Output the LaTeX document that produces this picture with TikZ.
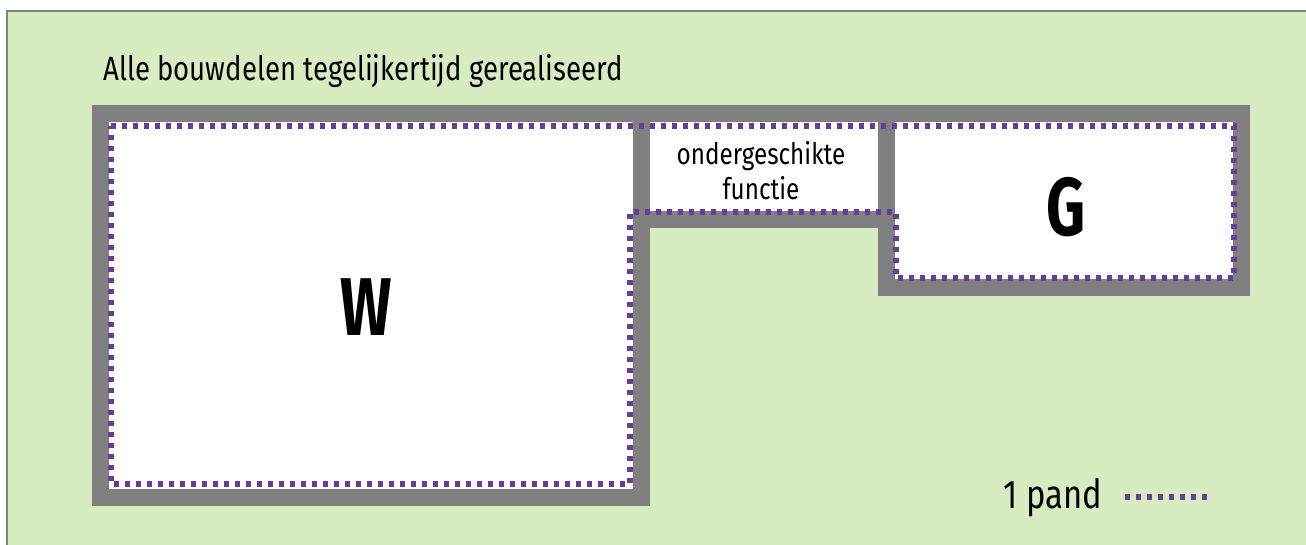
\documentclass[tikz,border=0pt]{standalone}
\usepackage{fontspec}
\setmainfont[FakeStretch=0.82]{Fira Sans}
\newfontfamily\smal[FakeStretch=0.74]{Fira Sans}
\usetikzlibrary{positioning}

\definecolor{veld}{RGB}{216,236,194}
\definecolor{rand}{RGB}{118,140,108}
\definecolor{muur}{RGB}{128,128,128}
\definecolor{paars}{RGB}{104,60,152}

\tikzset{
  ruimte/.style={draw=muur, fill=white, line width=8.5pt},
  grens/.style={draw=paars, line width=2.9pt, dash pattern=on 2.6pt off 2.9pt},
  label/.style={inner sep=0pt, text=black},
  letter/.style={label, font=\smal\fontsize{41}{41}\selectfont\bfseries},
}

\begin{document}
\begin{tikzpicture}[x=0.5pt, y=-0.5pt]
    \useasboundingbox (0,0) rectangle (1306,545);
    \fill[veld] (7,11) rectangle (1306,545);
    \draw[rand, line width=0.8pt] (7,545) -- (7,11) -- (1306,11);

    % bouwdelen, muren op de hartlijn
    \draw[ruimte] (100.5,113.5) rectangle (641,497.5);
    \draw[ruimte] (641,113.5) rectangle (886.5,219.5);
    \draw[ruimte] (886.5,113.5) rectangle (1241.5,287.5);

    % grens van het pand
    \draw[grens] (111,126) -- (1234,126) -- (1234,278) -- (896,278)
      -- (896,212) -- (630,212) -- (630,484) -- (111,484) -- cycle;

    \node[label, anchor=base west, font=\fontsize{16.8}{20}\selectfont]
      (titel) at (103,81) {Alle bouwdelen tegelijkertijd gerealiseerd};
    \node[label, align=center, font=\fontsize{14.8}{17.5}\selectfont]
      (ondergeschikt) at (761,171) {ondergeschikte\\functie};
    \node[letter] (W) at (366,307) {W};
    \node[letter] (G) at (1066,207) {G};

    % legenda
    \node[label, anchor=base west, font=\fontsize{20}{24}\selectfont]
      (pand) at (1003,508) {1 pand};
    \coordinate[right=11pt of pand.east] (l1);
    \coordinate[right=41pt of l1] (l2);
    \draw[grens] (l1) -- (l2);
\end{tikzpicture}
\end{document}
